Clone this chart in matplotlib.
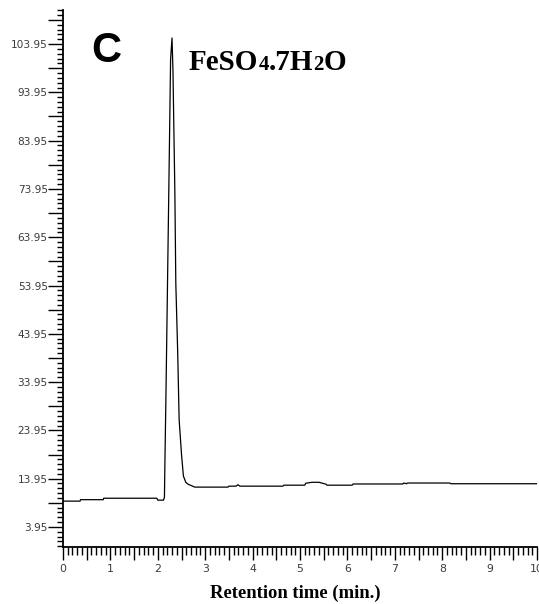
import matplotlib
matplotlib.use("Agg")
import matplotlib.pyplot as plt
from matplotlib.ticker import MultipleLocator, FixedLocator, FuncFormatter

# Chromatogram trace (retention time in min, signal)
time = [0.00, 0.36, 0.37, 0.85, 0.86, 1.98, 2.00, 2.12, 2.14, 2.15, 2.17,
        2.20, 2.24, 2.27, 2.30, 2.32, 2.36, 2.38, 2.42, 2.45,
        2.50, 2.54, 2.59, 2.64, 2.78, 3.48, 3.50,
        3.65, 3.69, 3.73, 4.64, 4.66, 5.10, 5.12, 5.25, 5.40, 5.55, 5.57, 6.10,
        6.12, 7.17, 7.19, 7.25, 7.27, 8.16, 8.18, 10.00]
signal = [9.3, 9.3, 9.6, 9.6, 9.9, 9.9, 9.5, 9.5, 10.1, 17.3, 29.9,
          50.9, 79.2, 100.8, 105.2, 98.4, 73.2, 54.4, 40.0, 26.2,
          19.0, 14.5, 13.2, 12.8, 12.2, 12.2, 12.4,
          12.4, 12.7, 12.4, 12.4, 12.6, 12.6, 13.0, 13.2, 13.2, 12.8, 12.6, 12.6,
          12.85, 12.85, 13.05, 12.9, 13.05, 13.05, 12.9, 12.9]

y_labeled = [3.95, 13.95, 23.95, 33.95, 43.95, 53.95, 63.95, 73.95, 83.95, 93.95, 103.95]
x_labeled = [0, 1, 2, 3, 4, 5, 6, 7, 8, 9, 10]

W, H = 539, 604
fig = plt.figure(figsize=(W / 100, H / 100), dpi=100)
ax = fig.add_axes([63 / W, (H - 547) / H, (537 - 63) / W, (547 - 10) / H])

ax.plot(time, signal, color="black", lw=0.9)

ax.set_xlim(0, 10)
ax.set_ylim(-0.2, 111.0)

for s in ["top", "right"]:
    ax.spines[s].set_visible(False)
for s in ["left", "bottom"]:
    ax.spines[s].set_linewidth(1.3)

# y ticks: major every 5 (labels every 10), minor every 1
ymaj = [3.95 + 5 * k for k in range(22)]
ax.yaxis.set_major_locator(FixedLocator(ymaj))
ax.yaxis.set_minor_locator(FixedLocator([-0.05 + k for k in range(112)]))
ax.yaxis.set_major_formatter(FuncFormatter(
    lambda v, p: (f"{v:.2f}" if any(abs(v - t) < 1e-6 for t in y_labeled) else "")))

# x ticks: major every 0.5 (labels on integers), minor every 0.1
ax.xaxis.set_major_locator(MultipleLocator(0.5))
ax.xaxis.set_minor_locator(MultipleLocator(0.1))
ax.xaxis.set_major_formatter(FuncFormatter(
    lambda v, p: (f"{int(round(v))}" if abs(v - round(v)) < 1e-6 and int(round(v)) in x_labeled else "")))

ax.tick_params(axis="y", which="major", direction="out", length=10.5, width=1.0,
               color="black", labelsize=7.6, labelcolor="#3a3a3a", pad=0.5)
ax.tick_params(axis="y", which="minor", direction="out", length=4.5, width=1.0, color="black")
ax.tick_params(axis="x", which="major", direction="out", length=9.5, width=1.0,
               color="black", labelsize=7.8, labelcolor="#3a3a3a", pad=2.5)
ax.tick_params(axis="x", which="minor", direction="out", length=5.5, width=1.0, color="black")
for lab in ax.get_xticklabels() + ax.get_yticklabels():
    lab.set_fontfamily("DejaVu Sans")

# x label
fig.text(295 / W, 1 - 593 / H, "Retention time (min.)", ha="center", va="center",
         fontfamily="Liberation Serif", fontweight="bold", fontsize=13.4)

# panel letter
fig.text(91 / W, 1 - 62 / H, "C", ha="left", va="baseline",
         fontfamily="Liberation Sans", fontweight="bold", fontsize=30)

# compound label with small digits on the same baseline
renderer = fig.canvas.get_renderer()
pieces = [("FeSO", 21), ("4", 15), (".7H", 21), ("2", 15), ("O", 21)]
x0 = 189
base = 70
for txt, fs in pieces:
    t = fig.text(x0 / W, 1 - base / H, txt, ha="left", va="baseline",
                 fontfamily="Liberation Serif", fontweight="bold", fontsize=fs)
    bb = t.get_window_extent(renderer=renderer)
    x0 += bb.width

fig.savefig("out.png", dpi=100)
